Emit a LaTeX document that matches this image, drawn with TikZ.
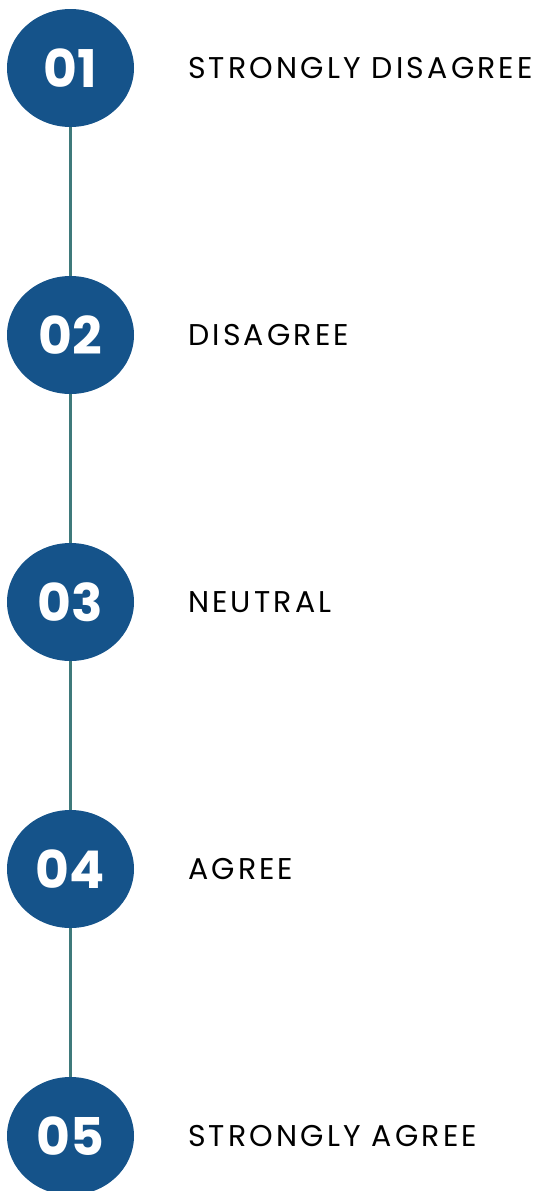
\documentclass[tikz,border=0pt]{standalone}
\usepackage{fontspec}
\setmainfont{Poppins}
\newfontfamily\labfont[LetterSpace=10.5]{Poppins}
\usetikzlibrary{shapes.geometric}
\definecolor{stepblue}{HTML}{15538A}
\definecolor{stepteal}{HTML}{3F7A7B}
\tikzstyle{num}=[ellipse, fill=stepblue, minimum width=127pt, minimum height=118pt, inner sep=0pt, text=white, font=\fontsize{52}{52}\selectfont\bfseries]
\tikzstyle{lab}=[anchor=base west, inner sep=0pt, font=\labfont\fontsize{30}{30}\selectfont]

\begin{document}
\begin{tikzpicture}[x=1pt,y=-1pt]
	\useasboundingbox (0,0) rectangle (539,1191);
	\node[num] (n1) at (70.5,68) {01};
	\node[num] (n2) at (70.5,335) {02};
	\node[num] (n3) at (70.5,602) {03};
	\node[num] (n4) at (70.5,869) {04};
	\node[num] (n5) at (70.5,1136) {05};
	\node[lab] (l1) at (188,78.5) {STRONGLY DISAGREE};
	\node[lab] (l2) at (188,345.5) {DISAGREE};
	\node[lab] (l3) at (188,612.5) {NEUTRAL};
	\node[lab] (l4) at (188,879.5) {AGREE};
	\node[lab] (l5) at (188,1146.5) {STRONGLY AGREE};
	\draw [stepteal, line width=3pt] (n1) -- (n2);
	\draw [stepteal, line width=3pt] (n2) -- (n3);
	\draw [stepteal, line width=3pt] (n3) -- (n4);
	\draw [stepteal, line width=3pt] (n4) -- (n5);
\end{tikzpicture}
\end{document}
